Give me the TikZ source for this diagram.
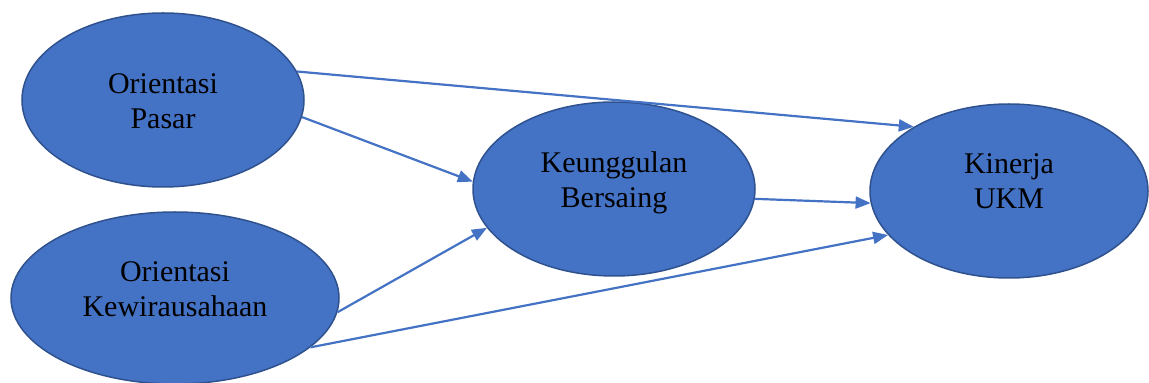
\documentclass[tikz,border=0pt]{standalone}
\usepackage{fontspec}
\setmainfont{Liberation Serif}
\usetikzlibrary{shapes.geometric,arrows.meta}
\definecolor{fillblue}{HTML}{4472C4}
\definecolor{edgeblue}{HTML}{2F528F}
\tikzset{
  ell/.style={ellipse, fill=fillblue, draw=edgeblue, line width=1.5pt, inner sep=0pt},
  lbl/.style={align=center, font=\fontsize{30}{35}\selectfont, text=black, inner sep=0pt},
  conn/.style={draw=fillblue, line width=2.2pt, -{Triangle[length=15pt,width=12pt]}}
}
\begin{document}
\begin{tikzpicture}[x=1pt,y=1pt]
\useasboundingbox (0,0) rectangle (1149,383);
\node[ell, minimum width=282pt, minimum height=174pt] (op) at (163,283) {};
\node[ell, minimum width=328pt, minimum height=172pt] (ok) at (175,85) {};
\node[ell, minimum width=282pt, minimum height=174pt] (kb) at (614,194) {};
\node[ell, minimum width=278pt, minimum height=174pt] (ku) at (1009,192) {};
\node[lbl] (opt) at (163,281.5) {Orientasi\\Pasar};
\node[lbl] (okt) at (175,93.5) {Orientasi\\Kewirausahaan};
\node[lbl] (kbt) at (614,200.5) {Keunggulan\\Bersaing};
\node[lbl] (kut) at (1009,202) {Kinerja\\UKM};
\draw[conn] (op.12.8) -- (ku.146.2);
\draw[conn] (op.-7.8) -- (kb.177.2);
\draw[conn] (ok.-5.3) -- (kb.197.1);
\draw[conn] (ok.-20.3) -- (ku.200.3);
\draw[conn] (kb.-4.1) -- (ku.185);
\end{tikzpicture}
\end{document}
